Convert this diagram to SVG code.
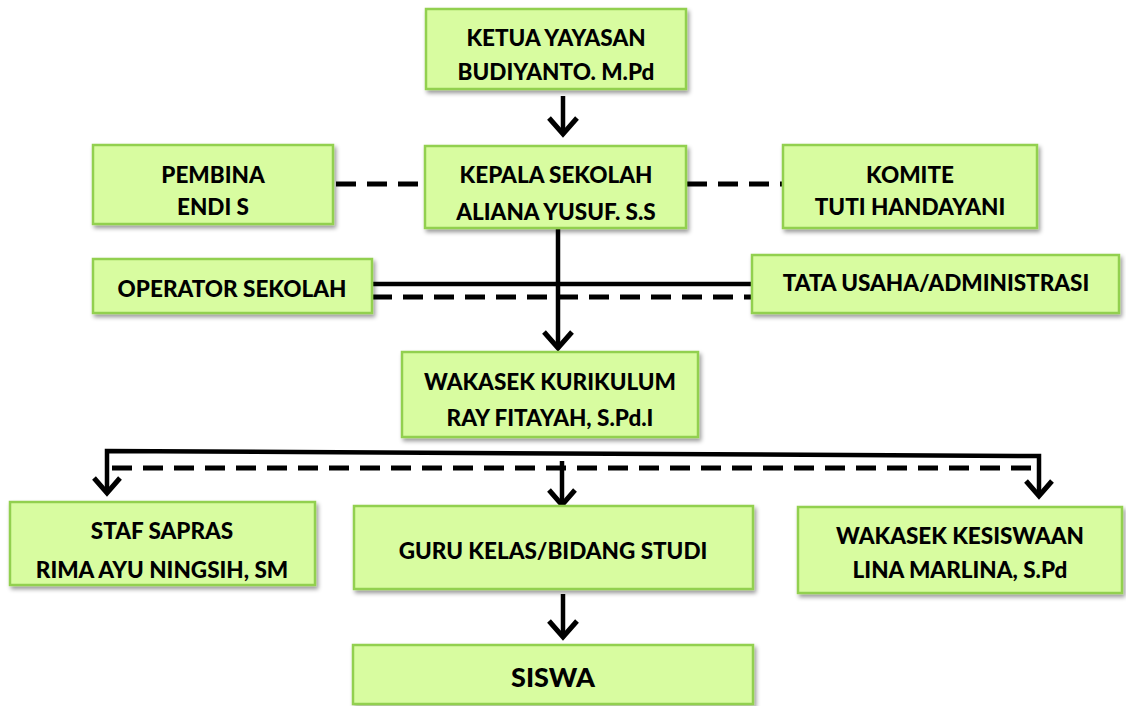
<svg xmlns="http://www.w3.org/2000/svg" width="1126" height="706" viewBox="0 0 1126 706">
<style>
.box{fill:#d8fca0;stroke:#92d050;stroke-width:2.5;filter:url(#sh)}
.t{font-family:Lato,"Open Sans","Liberation Sans",sans-serif;font-weight:900;font-size:22.5px;fill:#000;text-anchor:middle}
.ln{fill:none;stroke:#000;stroke-width:4.5}
.dash{fill:none;stroke:#000;stroke-width:5;stroke-dasharray:20 11}
.ah{fill:none;stroke:#000;stroke-width:5;stroke-linejoin:miter}
</style>
<defs>
<filter id="sh" x="-10%" y="-10%" width="120%" height="130%">
<feGaussianBlur in="SourceAlpha" stdDeviation="2"/>
<feOffset dx="2" dy="3" result="o"/>
<feComponentTransfer><feFuncA type="linear" slope="0.4"/></feComponentTransfer>
<feMerge><feMergeNode/><feMergeNode in="SourceGraphic"/></feMerge>
</filter>
</defs>
<rect width="1126" height="706" fill="#fff"/>
<g id="connectors">
<line class="ln" x1="563" y1="96" x2="563" y2="133"/>
<polyline class="ah" points="549,118 563,134 577,118"/>
<line class="dash" x1="336" y1="184" x2="425" y2="184"/>
<line class="dash" x1="687" y1="184" x2="783" y2="184"/>
<line class="ln" x1="558" y1="229" x2="558" y2="348"/>
<polyline class="ah" points="544,332 558,348 572,332"/>
<line class="ln" x1="372" y1="284" x2="752" y2="284"/>
<line class="dash" x1="372" y1="297" x2="752" y2="297"/>
<polyline class="ln" points="107,492 107,451 1039,456 1039,495"/>
<polyline class="ah" points="94,478 107,493 120,478"/>
<polyline class="ah" points="1026,481 1039,496 1052,481"/>
<line class="dash" x1="112" y1="468" x2="1032" y2="468"/>
<line class="ln" x1="562" y1="461" x2="562" y2="504"/>
<polyline class="ah" points="549,490 562,505 575,490"/>
<line class="ln" x1="563" y1="594" x2="563" y2="635"/>
<polyline class="ah" points="549,621 563,637 577,621"/>
</g>
<g id="ketua"><rect class="box" x="426" y="9" width="260" height="80"/><text class="t" x="556" y="46">KETUA YAYASAN</text><text class="t" x="556" y="80">BUDIYANTO. M.Pd</text></g>
<g id="kepala"><rect class="box" x="425" y="146" width="261" height="82"/><text class="t" x="556" y="183">KEPALA SEKOLAH</text><text class="t" x="556" y="220">ALIANA YUSUF. S.S</text></g>
<g id="pembina"><rect class="box" x="93" y="145" width="240" height="79"/><text class="t" x="213" y="183">PEMBINA</text><text class="t" x="213" y="215">ENDI S</text></g>
<g id="komite"><rect class="box" x="783" y="145" width="254" height="83"/><text class="t" x="910" y="183">KOMITE</text><text class="t" x="910" y="215">TUTI HANDAYANI</text></g>
<g id="operator"><rect class="box" x="93" y="259" width="279" height="54"/><text class="t" x="232" y="297">OPERATOR SEKOLAH</text></g>
<g id="tatausaha"><rect class="box" x="752" y="255" width="367" height="58"/><text class="t" x="936" y="291">TATA USAHA/ADMINISTRASI</text></g>
<g id="wakasek-kurikulum"><rect class="box" x="402" y="352" width="296" height="85"/><text class="t" x="550" y="390">WAKASEK KURIKULUM</text><text class="t" x="550" y="426">RAY FITAYAH, S.Pd.I</text></g>
<g id="staf-sapras"><rect class="box" x="10" y="502" width="305" height="83"/><text class="t" x="162" y="539">STAF SAPRAS</text><text class="t" x="162" y="578">RIMA AYU NINGSIH, SM</text></g>
<g id="guru"><rect class="box" x="354" y="506" width="399" height="83"/><text class="t" x="553" y="559">GURU KELAS/BIDANG STUDI</text></g>
<g id="wakasek-kesiswaan"><rect class="box" x="798" y="507" width="324" height="86"/><text class="t" x="960" y="544">WAKASEK KESISWAAN</text><text class="t" x="960" y="578">LINA MARLINA, S.Pd</text></g>
<g id="siswa"><rect class="box" x="353" y="645" width="400" height="59"/><text class="t" x="553" y="687" style="font-size:27px">SISWA</text></g>
</svg>
